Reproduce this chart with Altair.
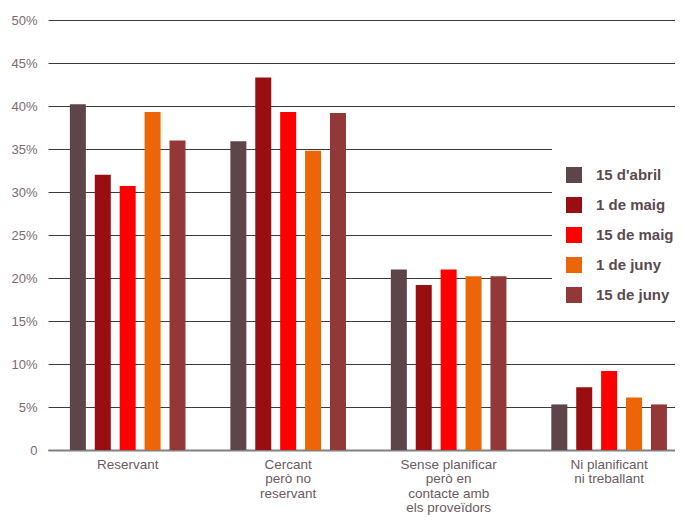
import altair as alt
import pandas as pd

categories = ["Reservant", "Cercant\nperò no\nreservant", "Sense planificar\nperò en\ncontacte amb\nels proveïdors", "Ni planificant\nni treballant"]
series = ["15 d'abril", "1 de maig", "15 de maig", "1 de juny", "15 de juny"]
colors = ["#5d4549", "#990f11", "#ff0000", "#ec6608", "#933838"]

v_abril15 = [40.2, 35.9, 21.0, 5.3]
v_maig1 = [32.0, 43.3, 19.2, 7.3]
v_maig15 = [30.7, 39.3, 21.0, 9.2]
v_juny1 = [39.3, 34.8, 20.2, 6.1]
v_juny15 = [36.0, 39.2, 20.2, 5.3]

rows = []
for s, vals in zip(series, [v_abril15, v_maig1, v_maig15, v_juny1, v_juny15]):
    for c, v in zip(categories, vals):
        rows.append({"cat": c, "serie": s, "val": v})
df = pd.DataFrame(rows)

chart = alt.Chart(df).mark_bar(width=16).encode(
    x=alt.X("cat:N", sort=categories, title=None,
            scale=alt.Scale(paddingInner=0.28, paddingOuter=0.0935, align=0.73),
            axis=alt.Axis(labelAngle=0, labelExpr="split(datum.value, '\\n')",
                          labelFontSize=13.5, labelColor="#6b5a60", labelFont="Liberation Sans",
                          labelLineHeight=14.5, labelPadding=7, ticks=False,
                          domainColor="#808080", domainWidth=2, labelBaseline="top")),
    xOffset=alt.XOffset("serie:N", sort=series, scale=alt.Scale(paddingInner=0.36, paddingOuter=0)),
    y=alt.Y("val:Q", title=None,
            scale=alt.Scale(domain=[0, 50], nice=False),
            axis=alt.Axis(values=list(range(0, 55, 5)),
                          labelExpr="datum.value == 0 ? '0' : datum.value + '%'",
                          labelFontSize=13, labelColor="#7b6b70", labelFont="Liberation Sans",
                          labelPadding=11,
                          domain=False, ticks=False,
                          gridColor="#3a3a3a", gridWidth=1.2, gridOpacity=1)),
    color=alt.Color("serie:N", sort=series, scale=alt.Scale(domain=series, range=colors),
                    legend=alt.Legend(orient="none", legendX=504, legendY=127,
                                      title=" ", titleFontSize=1, titlePadding=5,
                                      symbolType="square", symbolSize=256, symbolStrokeWidth=0,
                                      symbolOpacity=1,
                                      labelFontSize=15, labelFontWeight="bold", labelColor="#5a4a50",
                                      labelFont="Liberation Sans", labelOffset=14,
                                      rowPadding=14, padding=14, fillColor="white")),
).properties(
    width=627, height=430,
    autosize=alt.AutoSizeParams(type="none"),
    padding={"left": 40, "top": 12, "right": 0, "bottom": 66},
).configure_view(stroke=None)

chart.save("out.html", embed_options={"renderer": "svg", "actions": False})
